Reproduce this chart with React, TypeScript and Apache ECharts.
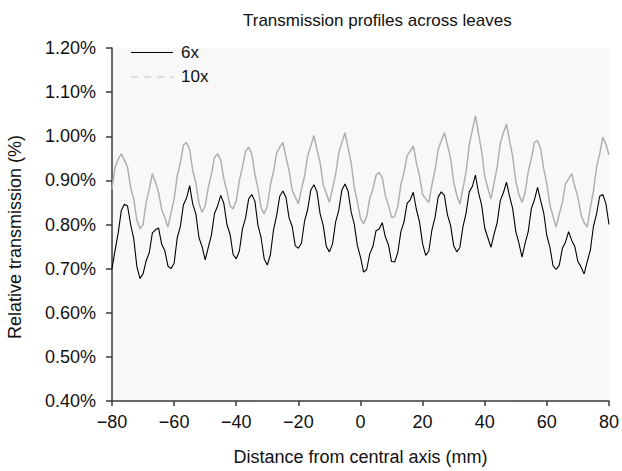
import React, { useEffect, useRef } from "react";
import * as echarts from "echarts";

const title = "Transmission profiles across leaves";
const xAxisName = "Distance from central axis (mm)";
const yAxisName = "Relative transmission (%)";
const seriesNames = ["6x", "10x"];
const xTicks = [-80, -60, -40, -20, 0, 20, 40, 60, 80];
const yTicks = [0.4, 0.5, 0.6, 0.7, 0.8, 0.9, 1.0, 1.1, 1.2];

// distance (mm) from -80 to 80 in 1 mm steps
const distances: number[] = Array.from({ length: 161 }, (_, i) => i - 80);

// 6x relative transmission (%)
const values6x = [
  0.700, 0.742, 0.781, 0.832, 0.846, 0.842, 0.800, 0.768, 0.705, 0.678,
  0.688, 0.718, 0.736, 0.781, 0.788, 0.792, 0.755, 0.741, 0.706, 0.700,
  0.712, 0.770, 0.795, 0.845, 0.860, 0.888, 0.846, 0.824, 0.770, 0.750,
  0.720, 0.748, 0.776, 0.825, 0.842, 0.866, 0.848, 0.800, 0.778, 0.732,
  0.722, 0.740, 0.790, 0.815, 0.858, 0.868, 0.853, 0.798, 0.770, 0.722,
  0.708, 0.732, 0.788, 0.820, 0.864, 0.876, 0.862, 0.815, 0.796, 0.752,
  0.746, 0.758, 0.808, 0.834, 0.878, 0.890, 0.874, 0.824, 0.798, 0.750,
  0.738, 0.756, 0.806, 0.832, 0.878, 0.892, 0.876, 0.828, 0.801, 0.752,
  0.726, 0.692, 0.698, 0.734, 0.750, 0.786, 0.790, 0.804, 0.772, 0.754,
  0.716, 0.715, 0.736, 0.784, 0.806, 0.848, 0.856, 0.873, 0.834, 0.806,
  0.756, 0.730, 0.740, 0.788, 0.816, 0.862, 0.874, 0.866, 0.822, 0.798,
  0.752, 0.738, 0.748, 0.796, 0.826, 0.874, 0.886, 0.912, 0.872, 0.844,
  0.792, 0.770, 0.748, 0.778, 0.804, 0.854, 0.872, 0.896, 0.864, 0.836,
  0.784, 0.758, 0.726, 0.758, 0.784, 0.836, 0.856, 0.884, 0.854, 0.826,
  0.774, 0.748, 0.706, 0.698, 0.708, 0.746, 0.760, 0.784, 0.764, 0.750,
  0.716, 0.704, 0.688, 0.716, 0.742, 0.796, 0.824, 0.864, 0.868, 0.848,
  0.800,
];

// 10x relative transmission (%)
const values10x = [
  0.880, 0.930, 0.948, 0.960, 0.946, 0.930, 0.884, 0.858, 0.810, 0.790,
  0.800, 0.850, 0.880, 0.915, 0.896, 0.872, 0.834, 0.816, 0.794, 0.826,
  0.858, 0.910, 0.940, 0.980, 0.986, 0.970, 0.922, 0.894, 0.848, 0.828,
  0.842, 0.884, 0.914, 0.952, 0.960, 0.946, 0.904, 0.876, 0.842, 0.835,
  0.854, 0.900, 0.930, 0.966, 0.975, 0.960, 0.914, 0.882, 0.838, 0.824,
  0.842, 0.890, 0.920, 0.962, 0.975, 0.986, 0.954, 0.922, 0.878, 0.862,
  0.847, 0.880, 0.910, 0.956, 0.978, 1.002, 0.970, 0.940, 0.890, 0.870,
  0.850, 0.882, 0.914, 0.962, 0.986, 1.008, 0.974, 0.940, 0.884, 0.852,
  0.814, 0.802, 0.818, 0.860, 0.880, 0.912, 0.918, 0.906, 0.866, 0.844,
  0.816, 0.818, 0.840, 0.890, 0.918, 0.956, 0.966, 0.978, 0.940, 0.910,
  0.868, 0.858, 0.850, 0.890, 0.924, 0.970, 0.990, 1.008, 0.980, 0.950,
  0.896, 0.866, 0.846, 0.882, 0.920, 0.980, 1.014, 1.046, 1.006, 0.966,
  0.910, 0.882, 0.858, 0.894, 0.930, 0.984, 1.008, 1.028, 0.990, 0.954,
  0.898, 0.868, 0.850, 0.872, 0.920, 0.950, 0.986, 0.990, 0.972, 0.926,
  0.892, 0.844, 0.818, 0.794, 0.824, 0.850, 0.892, 0.904, 0.915, 0.886,
  0.862, 0.822, 0.804, 0.795, 0.838, 0.876, 0.930, 0.960, 0.998, 0.982,
  0.958,
];

const FONT = "'Liberation Sans', Arial, Helvetica, sans-serif";
const COLOR_6X = "#000000";
const COLOR_10X = "#b0b0b0";

export default function App() {
  const ref = useRef<HTMLDivElement>(null);

  useEffect(() => {
    if (!ref.current) return;
    const chart = echarts.init(ref.current, undefined, { renderer: "svg" });
    const axisColor = "#3a3a3a";
    chart.setOption({
      animation: false,
      backgroundColor: "#ffffff",
      textStyle: { fontFamily: FONT },
      title: {
        text: title,
        left: 238,
        top: 7,
        textStyle: { fontSize: 17, fontWeight: "normal", color: "#111", fontFamily: FONT },
      },
      grid: {
        left: 112,
        right: 13,
        top: 48,
        bottom: 70,
        show: true,
        backgroundColor: "#f8f8f8",
        borderWidth: 0,
      },
      xAxis: {
        type: "value",
        min: xTicks[0],
        max: xTicks[xTicks.length - 1],
        interval: 20,
        name: xAxisName,
        nameLocation: "middle",
        nameGap: 47,
        nameTextStyle: { fontSize: 18, color: "#111", fontFamily: FONT },
        axisLine: { show: true, onZero: false, lineStyle: { color: axisColor, width: 1.5 } },
        axisTick: { show: true, inside: false, length: 5, lineStyle: { color: axisColor, width: 1.5 } },
        axisLabel: {
          fontSize: 18,
          color: "#111",
          margin: 12,
          fontFamily: FONT,
          formatter: (v: number) => String(v).replace("-", "\u2212"),
        },
        splitLine: { show: false },
      },
      yAxis: {
        type: "value",
        min: yTicks[0],
        max: yTicks[yTicks.length - 1],
        interval: 0.1,
        axisLine: { show: true, onZero: false, lineStyle: { color: axisColor, width: 1.5 } },
        axisTick: { show: true, inside: false, length: 6, lineStyle: { color: axisColor, width: 1.5 } },
        axisLabel: {
          fontSize: 18,
          color: "#111",
          margin: 16,
          fontFamily: FONT,
          formatter: (v: number) => v.toFixed(2) + "%",
        },
        splitLine: { show: false },
      },
      graphic: [
        {
          type: "text",
          x: 15,
          y: 237,
          rotation: Math.PI / 2,
          style: {
            text: yAxisName,
            fontSize: 18,
            fontFamily: FONT,
            fill: "#111",
            align: "center",
            verticalAlign: "middle",
          },
        },
        {
          type: "line",
          shape: { x1: 131, y1: 52.5, x2: 173, y2: 52.5 },
          style: { stroke: COLOR_6X, lineWidth: 1.2 },
        },
        {
          type: "text",
          x: 181,
          y: 52,
          style: {
            text: seriesNames[0],
            fontSize: 17,
            fontFamily: FONT,
            fill: "#111",
            align: "left",
            verticalAlign: "middle",
          },
        },
        {
          type: "line",
          shape: { x1: 131, y1: 77, x2: 173, y2: 77 },
          style: { stroke: "#c4c4c4", lineWidth: 1.2, lineDash: [7, 6] },
        },
        {
          type: "text",
          x: 181,
          y: 76,
          style: {
            text: seriesNames[1],
            fontSize: 17,
            fontFamily: FONT,
            fill: "#111",
            align: "left",
            verticalAlign: "middle",
          },
        },
      ],
      series: [
        {
          name: seriesNames[1],
          type: "line",
          symbol: "none",
          z: 2,
          lineStyle: { color: COLOR_10X, width: 1.5 },
          itemStyle: { color: COLOR_10X },
          data: distances.map((d, i) => [d, values10x[i]]),
        },
        {
          name: seriesNames[0],
          type: "line",
          symbol: "none",
          z: 3,
          lineStyle: { color: COLOR_6X, width: 1.1 },
          itemStyle: { color: COLOR_6X },
          data: distances.map((d, i) => [d, values6x[i]]),
        },
      ],
    });
    return () => chart.dispose();
  }, []);

  return (
    <div
      ref={ref}
      style={{ position: "fixed", left: 0, top: 0, width: 622, height: 471 }}
    />
  );
}
